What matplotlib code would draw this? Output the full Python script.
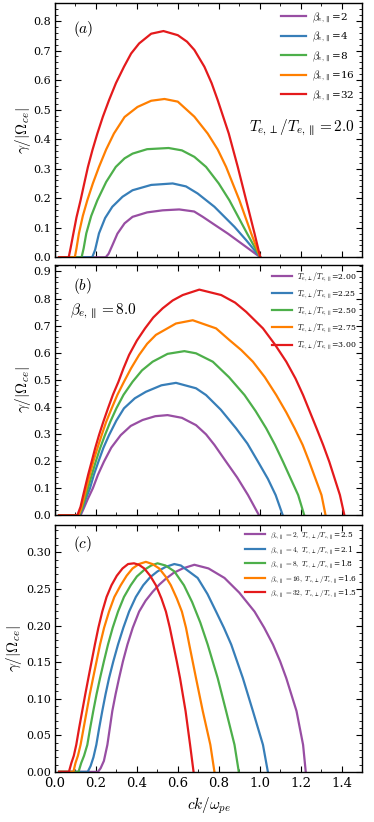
import matplotlib
matplotlib.use('Agg')
import matplotlib.pyplot as plt
from matplotlib.ticker import MultipleLocator, AutoMinorLocator

plt.rcParams['font.family'] = ['DejaVu Serif']
plt.rcParams['mathtext.fontset'] = 'cm'

colors = ['#984ea3', '#377eb8', '#4daf4a', '#ff7f00', '#e41a1c']

# ---- panel (a): T_perp/T_par = 2.0, varying beta
a_labels = [r'$\beta_{e,\parallel}$=2', r'$\beta_{e,\parallel}$=4', r'$\beta_{e,\parallel}$=8',
            r'$\beta_{e,\parallel}$=16', r'$\beta_{e,\parallel}$=32']
a_b2_x = [0.02, 0.248, 0.262, 0.28, 0.305, 0.34, 0.379, 0.45, 0.526, 0.607, 0.68, 0.722, 0.78, 0.845, 0.934, 1.003]
a_b2_y = [0, 0, 0.012, 0.04, 0.08, 0.115, 0.137, 0.152, 0.159, 0.162, 0.155, 0.137, 0.11, 0.08, 0.035, 0]
a_b4_x = [0.02, 0.182, 0.196, 0.215, 0.245, 0.28, 0.33, 0.379, 0.47, 0.575, 0.64, 0.697, 0.779, 0.877, 0.934, 1.003]
a_b4_y = [0, 0, 0.025, 0.081, 0.133, 0.171, 0.205, 0.227, 0.245, 0.25, 0.24, 0.216, 0.171, 0.103, 0.058, 0]
a_b8_x = [0.02, 0.13, 0.14, 0.153, 0.177, 0.207, 0.25, 0.297, 0.34, 0.379, 0.45, 0.555, 0.62,
          0.681, 0.738, 0.80, 0.852, 0.939, 1.003]
a_b8_y = [0, 0, 0.03, 0.081, 0.14, 0.193, 0.255, 0.306, 0.335, 0.351, 0.366, 0.37, 0.362,
          0.34, 0.306, 0.25, 0.193, 0.08, 0]
a_b16_x = [0.02, 0.097, 0.105, 0.117, 0.136, 0.158, 0.185, 0.215, 0.25, 0.288, 0.34, 0.403, 0.47,
           0.535, 0.60, 0.681, 0.746, 0.795, 0.836, 0.901, 0.959, 1.003]
a_b16_y = [0, 0, 0.03, 0.081, 0.14, 0.193, 0.25, 0.306, 0.365, 0.419, 0.475, 0.509, 0.53,
           0.536, 0.527, 0.476, 0.419, 0.365, 0.306, 0.193, 0.08, 0]
a_b32_x = [0.02, 0.067, 0.076, 0.09, 0.105, 0.125, 0.143, 0.161, 0.183, 0.207, 0.234, 0.264,
           0.298, 0.337, 0.372, 0.411, 0.47, 0.53, 0.60, 0.645, 0.681, 0.73, 0.765, 0.795,
           0.849, 0.893, 0.934, 0.975, 1.003]
a_b32_y = [0, 0, 0.03, 0.081, 0.135, 0.193, 0.25, 0.306, 0.363, 0.419, 0.476, 0.532,
           0.59, 0.645, 0.69, 0.724, 0.757, 0.766, 0.752, 0.73, 0.702, 0.645, 0.59, 0.532,
           0.419, 0.306, 0.193, 0.08, 0]

# ---- panel (b): beta = 8, varying anisotropy
b_labels = [r'$T_{e,\perp}/T_{e,\parallel}$=2.00', r'$T_{e,\perp}/T_{e,\parallel}$=2.25',
            r'$T_{e,\perp}/T_{e,\parallel}$=2.50', r'$T_{e,\perp}/T_{e,\parallel}$=2.75',
            r'$T_{e,\perp}/T_{e,\parallel}$=3.00']
b_200_x = [0.02, 0.125, 0.14, 0.16, 0.185, 0.21, 0.239, 0.275, 0.321, 0.37, 0.428, 0.49, 0.55,
           0.62, 0.689, 0.738, 0.779, 0.836, 0.89, 0.943, 0.997]
b_200_y = [0, 0, 0.025, 0.06, 0.1, 0.15, 0.198, 0.25, 0.296, 0.33, 0.352, 0.366, 0.37,
           0.36, 0.333, 0.299, 0.26, 0.198, 0.14, 0.075, 0]
b_225_x = [0.02, 0.12, 0.135, 0.15, 0.171, 0.19, 0.212, 0.237, 0.264, 0.3, 0.337, 0.39, 0.444,
           0.52, 0.591, 0.689, 0.738, 0.81, 0.885, 0.94, 0.992, 1.04, 1.078, 1.113]
b_225_y = [0, 0, 0.025, 0.06, 0.1, 0.15, 0.198, 0.25, 0.296, 0.35, 0.395, 0.432, 0.456,
           0.48, 0.489, 0.469, 0.444, 0.39, 0.321, 0.265, 0.198, 0.135, 0.075, 0]
b_250_x = [0.02, 0.118, 0.132, 0.146, 0.161, 0.18, 0.199, 0.22, 0.244, 0.27, 0.3, 0.335, 0.379,
           0.425, 0.477, 0.55, 0.632, 0.689, 0.771, 0.85, 0.926, 0.98, 1.032, 1.075, 1.114,
           1.188, 1.218]
b_250_y = [0, 0, 0.025, 0.06, 0.1, 0.15, 0.198, 0.247, 0.296, 0.345, 0.395, 0.445, 0.493,
           0.535, 0.567, 0.596, 0.606, 0.598, 0.567, 0.51, 0.444, 0.385, 0.321, 0.26, 0.198,
           0.075, 0]
b_275_x = [0.02, 0.115, 0.128, 0.14, 0.153, 0.17, 0.187, 0.207, 0.228, 0.25, 0.277, 0.305,
           0.337, 0.372, 0.411, 0.45, 0.493, 0.591, 0.673, 0.787, 0.852, 0.91, 0.967, 1.025,
           1.081, 1.13, 1.171, 1.21, 1.242, 1.302, 1.322]
b_275_y = [0, 0, 0.025, 0.06, 0.1, 0.15, 0.198, 0.247, 0.296, 0.345, 0.395, 0.445,
           0.493, 0.543, 0.592, 0.633, 0.666, 0.708, 0.72, 0.69, 0.647, 0.61, 0.567, 0.51,
           0.444, 0.38, 0.321, 0.26, 0.198, 0.075, 0]
b_300_x = [0.02, 0.109, 0.125, 0.135, 0.146, 0.162, 0.179, 0.196, 0.215, 0.236, 0.259, 0.283,
           0.31, 0.335, 0.362, 0.4, 0.44, 0.48, 0.526, 0.575, 0.624, 0.705, 0.812, 0.88, 0.934,
           1.016, 1.075, 1.13, 1.175, 1.212, 1.278, 1.31, 1.34, 1.392, 1.414]
b_300_y = [0, 0, 0.032, 0.065, 0.1, 0.15, 0.198, 0.247, 0.296, 0.345, 0.395, 0.445,
           0.493, 0.543, 0.592, 0.645, 0.69, 0.73, 0.764, 0.793, 0.813, 0.833, 0.813, 0.785,
           0.751, 0.69, 0.63, 0.567, 0.505, 0.444, 0.321, 0.26, 0.198, 0.075, 0]

# ---- panel (c): marginal cases
c_labels = [r'$\beta_{e,\parallel}=2,\ T_{e,\perp}/T_{e,\parallel}$=2.5',
            r'$\beta_{e,\parallel}=4,\ T_{e,\perp}/T_{e,\parallel}$=2.1',
            r'$\beta_{e,\parallel}=8,\ T_{e,\perp}/T_{e,\parallel}$=1.8',
            r'$\beta_{e,\parallel}=16,\ T_{e,\perp}/T_{e,\parallel}$=1.6',
            r'$\beta_{e,\parallel}=32,\ T_{e,\perp}/T_{e,\parallel}$=1.5']
c_1_x = [0.02, 0.21, 0.223, 0.239, 0.256, 0.268, 0.28, 0.296, 0.313, 0.332, 0.354, 0.38, 0.411,
         0.443, 0.477, 0.51, 0.542, 0.58, 0.624, 0.681, 0.75, 0.828, 0.9, 0.975, 1.022, 1.065,
         1.1, 1.13, 1.18, 1.212, 1.225]
c_1_y = [0, 0, 0.005, 0.015, 0.037, 0.06, 0.083, 0.106, 0.128, 0.151, 0.174, 0.197, 0.219,
         0.234, 0.246, 0.256, 0.264, 0.272, 0.278, 0.283, 0.278, 0.265, 0.245, 0.219, 0.197,
         0.174, 0.151, 0.128, 0.083, 0.037, 0]
c_2_x = [0.02, 0.16, 0.174, 0.188, 0.202, 0.216, 0.231, 0.247, 0.264, 0.285, 0.308, 0.334, 0.362,
         0.395, 0.431, 0.465, 0.501, 0.54, 0.583, 0.615, 0.697, 0.745, 0.787, 0.825, 0.861, 0.918,
         0.967, 1.016, 1.04]
c_2_y = [0, 0, 0.008, 0.02, 0.037, 0.06, 0.083, 0.106, 0.128, 0.151, 0.174, 0.197, 0.219,
         0.239, 0.255, 0.266, 0.274, 0.28, 0.284, 0.282, 0.265, 0.243, 0.219, 0.197, 0.174, 0.128,
         0.083, 0.037, 0]
c_3_x = [0.02, 0.115, 0.128, 0.142, 0.158, 0.172, 0.187, 0.203, 0.22, 0.239, 0.259, 0.282, 0.308,
         0.337, 0.37, 0.4, 0.436, 0.47, 0.501, 0.54, 0.583, 0.63, 0.67, 0.71, 0.746, 0.795, 0.836,
         0.877, 0.898]
c_3_y = [0, 0, 0.012, 0.022, 0.037, 0.06, 0.083, 0.106, 0.128, 0.151, 0.174, 0.197, 0.219,
         0.239, 0.255, 0.267, 0.276, 0.282, 0.285, 0.282, 0.274, 0.255, 0.232, 0.204, 0.174, 0.128,
         0.083, 0.037, 0]
c_4_x = [0.02, 0.09, 0.1, 0.112, 0.125, 0.14, 0.155, 0.17, 0.186, 0.203, 0.22, 0.24, 0.264, 0.29,
         0.321, 0.35, 0.379, 0.41, 0.444, 0.476, 0.509, 0.54, 0.566, 0.595, 0.62, 0.64, 0.656,
         0.689, 0.722, 0.759, 0.779]
c_4_y = [0, 0, 0.012, 0.022, 0.037, 0.06, 0.083, 0.106, 0.128, 0.151, 0.174, 0.197, 0.219, 0.239,
         0.255, 0.268, 0.278, 0.284, 0.287, 0.284, 0.278, 0.267, 0.255, 0.237, 0.219, 0.197, 0.174,
         0.128, 0.083, 0.037, 0]
c_5_x = [0.02, 0.068, 0.08, 0.092, 0.104, 0.118, 0.133, 0.148, 0.163, 0.179, 0.195, 0.212, 0.231,
         0.252, 0.276, 0.302, 0.33, 0.357, 0.386, 0.41, 0.436, 0.465, 0.493, 0.52, 0.542, 0.561,
         0.578, 0.595, 0.611, 0.638, 0.66, 0.677]
c_5_y = [0, 0, 0.012, 0.022, 0.037, 0.06, 0.083, 0.106, 0.128, 0.151, 0.174, 0.197, 0.219,
         0.239, 0.255, 0.268, 0.278, 0.284, 0.285, 0.283, 0.278, 0.268, 0.255, 0.237, 0.219, 0.197,
         0.174, 0.151, 0.128, 0.083, 0.037, 0]

a_series = [(a_b2_x, a_b2_y), (a_b4_x, a_b4_y), (a_b8_x, a_b8_y), (a_b16_x, a_b16_y), (a_b32_x, a_b32_y)]
b_series = [(b_200_x, b_200_y), (b_225_x, b_225_y), (b_250_x, b_250_y), (b_275_x, b_275_y), (b_300_x, b_300_y)]
c_series = [(c_1_x, c_1_y), (c_2_x, c_2_y), (c_3_x, c_3_y), (c_4_x, c_4_y), (c_5_x, c_5_y)]

fig = plt.figure(figsize=(3.74, 8.22), dpi=100)
L, W = 0.147, 0.821
ax_a = fig.add_axes([L, 0.687, W, 0.309])
ax_b = fig.add_axes([L, 0.373, W, 0.305])
ax_c = fig.add_axes([L, 0.061, W, 0.300])

panels = [(ax_a, a_series, a_labels, 0.86, 0.1, 7.5, 2.4, 0.5, -0.07),
          (ax_b, b_series, b_labels, 0.925, 0.1, 5.6, 2.6, 0.45, -0.07),
          (ax_c, c_series, c_labels, 0.337, 0.05, 5.3, 2.8, 0.35, -0.10)]

for ax, series, labels, ytop, ystep, lfs, hl, lsp, lx in panels:
    for (xs, ys), c, lab in zip(series, colors, labels):
        ax.plot(xs, ys, color=c, lw=1.6, label=lab)
    ax.set_xlim(0, 1.5)
    ax.set_ylim(0, ytop)
    ax.xaxis.set_major_locator(MultipleLocator(0.2))
    ax.xaxis.set_minor_locator(MultipleLocator(0.1))
    ax.yaxis.set_major_locator(MultipleLocator(ystep))
    ax.yaxis.set_minor_locator(AutoMinorLocator(5))
    ax.tick_params(which='both', direction='in', top=True, right=True)
    ax.tick_params(which='major', length=4, width=0.8)
    ax.tick_params(which='minor', length=2, width=0.6)
    ax.tick_params(axis='y', labelsize=8, pad=3)
    ax.tick_params(axis='x', labelsize=9.5)
    for s in ax.spines.values():
        s.set_linewidth(1.0)
    ax.set_ylabel(r'$\gamma/|\Omega_{ce}|$', fontsize=11)
    ax.yaxis.set_label_coords(lx, 0.5)
    ax.legend(loc='upper right', frameon=False, fontsize=lfs, handlelength=hl,
              labelspacing=lsp, borderaxespad=0.3, handletextpad=0.6)

ax_a.tick_params(axis='x', labelbottom=False)
ax_b.tick_params(axis='x', labelbottom=False)
ax_c.yaxis.set_major_formatter(plt.FormatStrFormatter('%.2f'))
ax_c.set_xlabel(r'$ck/\omega_{pe}$', fontsize=11)

ax_a.text(0.06, 0.90, r'$(a)$', transform=ax_a.transAxes, fontsize=11, va='center')
ax_a.text(0.975, 0.508, r'$T_{e,\perp}/T_{e,\parallel} = 2.0$', transform=ax_a.transAxes,
          fontsize=11, ha='right', va='center')
ax_b.text(0.06, 0.913, r'$(b)$', transform=ax_b.transAxes, fontsize=11, va='center')
ax_b.text(0.05, 0.814, r'$\beta_{e,\parallel} = 8.0$', transform=ax_b.transAxes,
          fontsize=11, ha='left', va='center')
ax_c.text(0.06, 0.923, r'$(c)$', transform=ax_c.transAxes, fontsize=11, va='center')

fig.savefig('out.png', dpi=100)
